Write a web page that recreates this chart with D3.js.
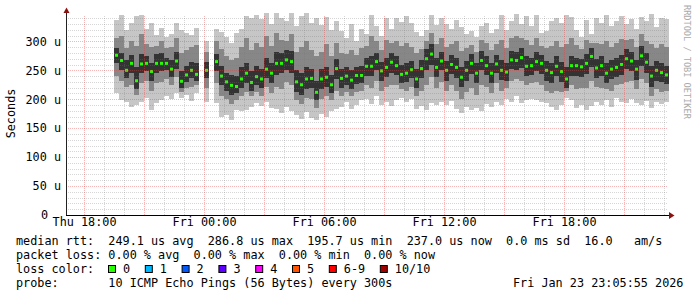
<!DOCTYPE html>
<html>
<head>
<meta charset="utf-8">
<script src="https://cdn.jsdelivr.net/npm/d3@7"></script>
<style>
  body { margin: 0; background: #fff; }
  svg text { font-family: "DejaVu Sans Mono", monospace; font-size: 11.8px; fill: #000; white-space: pre; }
</style>
</head>
<body>
<div id="graph"></div>
<script>
// graph window and sample grid (one sample per 15 min, first one Thu 19:30)
var graphStart = new Date(2026, 0, 22, 17, 5, 55);
var graphEnd = new Date(2026, 0, 23, 23, 5, 55);
var firstSample = new Date(2026, 0, 22, 19, 30, 0);
var stepMinutes = 15;

// values in microseconds, null = no data
var median = [
  276,267,250,262,232,261,262,248,262,262,
  262,252,266,231,242,250,243,null,250,null,
  265,240,230,224,222,235,245,229,239,235,
  252,245,262,262,268,265,230,225,235,236,
  212,235,238,225,253,236,240,233,241,241,
  257,257,265,249,255,264,258,243,245,251,
  235,253,270,278,255,266,250,260,255,238,
  250,262,245,267,258,245,261,250,247,268,
  267,272,257,258,265,262,250,246,257,248,
  235,258,258,256,262,274,254,258,245,252,
  255,260,270,266,252,275,264,240,250,246,242
];
var pingMax = [
  337,346,320,332,344,346,322,331,311,323,
  308,312,331,320,314,311,323,null,300,null,
  322,316,308,297,314,322,344,340,345,338,
  349,330,349,341,335,349,326,344,349,332,
  340,328,342,320,335,318,305,330,300,322,
  312,346,326,310,340,322,340,333,344,331,
  316,309,320,346,328,340,330,322,337,325,
  312,318,308,326,331,314,322,345,320,336,
  348,330,344,326,345,314,318,335,340,331,
  346,342,320,308,337,312,340,331,346,326,
  335,343,330,338,322,342,336,347,325,340,338
];
var pingHi = [
  305,310,288,300,292,312,295,290,292,300,
  288,290,305,280,285,290,294,null,282,null,
  300,286,275,268,272,290,305,285,298,290,
  310,292,315,302,300,312,282,290,300,285,
  275,282,295,275,298,280,278,285,276,288,
  292,310,300,285,302,298,300,292,298,290,
  280,286,300,315,295,305,290,296,300,284,
  288,294,282,302,298,285,295,302,288,306,
  310,305,302,294,305,292,288,292,300,290,
  295,305,294,286,302,298,298,296,300,290,
  298,304,302,304,290,312,300,296,288,295,290
];
var coreHi = [
  288,280,268,276,255,278,275,262,278,280,
  272,268,282,248,258,265,262,null,265,null,
  278,258,246,242,240,255,262,248,258,252,
  272,262,282,280,285,284,250,245,255,252,
  232,252,256,242,270,252,256,250,256,258,
  272,275,280,265,272,280,274,260,262,266,
  252,268,286,295,272,282,266,276,272,255,
  266,278,262,284,275,262,276,268,262,284,
  282,288,274,272,282,276,266,262,274,264,
  255,275,272,270,278,288,270,274,262,268,
  272,276,286,282,268,292,280,258,266,262,258
];
var coreLo = [
  262,250,236,245,218,245,248,232,246,248,
  250,238,252,220,230,236,232,null,236,null,
  248,225,215,208,210,220,228,215,224,220,
  236,228,242,245,250,246,212,208,218,220,
  198,218,222,210,235,220,225,218,226,228,
  240,240,250,232,238,246,242,228,230,236,
  220,236,250,260,238,250,232,244,236,222,
  232,244,228,250,242,228,246,234,232,252,
  250,254,240,242,248,244,232,228,240,230,
  220,240,240,238,244,256,236,240,228,235,
  238,242,252,248,234,258,246,222,232,230,226
];
var pingLo = [
  240,232,222,225,208,228,232,215,228,230,
  235,225,238,212,220,222,225,null,220,null,
  228,205,200,192,198,205,212,205,212,205,
  222,210,222,218,230,225,198,192,202,200,
  185,200,205,198,215,205,212,205,212,215,
  225,220,232,215,222,225,225,218,215,222,
  205,215,225,238,220,230,215,225,215,200,
  212,220,208,225,222,210,228,215,220,232,
  235,232,225,228,230,225,215,210,215,212,
  215,225,218,220,220,232,222,220,218,215,
  225,226,230,232,218,235,228,205,218,212,215
];
var pingMin = [
  210,199,196,187,190,196,202,182,193,199,
  205,200,210,203,207,197,211,null,195,null,
  193,170,173,164,182,179,182,187,193,188,
  196,185,184,176,187,180,172,165,178,168,
  164,175,170,180,184,186,195,184,190,199,
  200,192,205,190,196,188,198,202,195,200,
  184,188,181,194,190,196,190,197,183,176,
  186,182,185,180,192,187,196,190,200,195,
  205,193,198,201,199,196,193,187,182,190,
  202,198,185,190,182,188,196,190,199,187,
  202,196,193,200,194,190,197,185,196,192,195
];

var yTicks = [0, 50, 100, 150, 200, 250, 300];
var lossLabels = ["0", "1", "2", "3", "4", "5", "6-9", "10/10"];
var lossColors = ["#26ff00", "#00b8ff", "#0059ff", "#5e00ff", "#ff00ff", "#ff5500", "#ff0000", "#a10000"];
var statLines = [
  "median rtt:  249.1 us avg  286.8 us max  195.7 us min  237.0 us now  0.0 ms sd  16.0   am/s",
  "packet loss: 0.00 % avg  0.00 % max  0.00 % min  0.00 % now",
  "loss color:",
  "probe:       10 ICMP Echo Pings (56 Bytes) every 300s"
];
var stamp = "Fri Jan 23 23:05:55 2026";

var width = 697, height = 297;
var plotLeft = 66, plotRight = 666, plotBottom = 215, plotTop = 13;

var svg = d3.select("#graph").append("svg")
  .attr("width", width)
  .attr("height", height);

var x = d3.scaleTime().domain([graphStart, graphEnd]).range([plotLeft, plotRight]);
var y = d3.scaleLinear().domain([0, 349]).range([plotBottom, plotTop]);

var times = median.map(function(d, i) { return d3.timeMinute.offset(firstSample, i * stepMinutes); });
var idx = d3.range(median.length).filter(function(i) { return median[i] != null; });

function band(lo, hi, color) {
  svg.append("g")
    .attr("shape-rendering", "crispEdges")
    .selectAll("rect")
    .data(idx)
    .enter().append("rect")
    .attr("x", function(i) { return x(times[i]); })
    .attr("width", function(i) { return x(d3.timeMinute.offset(times[i], stepMinutes)) - x(times[i]); })
    .attr("y", function(i) { return y(hi[i]); })
    .attr("height", function(i) { return y(lo[i]) - y(hi[i]); })
    .attr("fill", color);
}

// the smoke, lightest outside
band(pingMin, pingMax, "#c6c6c6");
band(pingLo, pingHi, "#878787");
band(coreLo, coreHi, "#333333");

// medians
svg.append("g")
  .selectAll("rect")
  .data(idx)
  .enter().append("rect")
  .attr("x", function(i) { return x(times[i]) + 1; })
  .attr("y", function(i) { return y(median[i]) - 1.5; })
  .attr("width", 3)
  .attr("height", 3)
  .attr("fill", lossColors[0]);

// grid, drawn faint on top of the data
var grid = svg.append("g").attr("shape-rendering", "crispEdges");
var majorColor = "rgba(235,60,60,0.38)", minorColor = "rgba(120,120,120,0.3)";
d3.range(10, 341, 10).forEach(function(v) {
  grid.append("line")
    .attr("x1", plotLeft).attr("x2", plotRight + 2)
    .attr("y1", Math.round(y(v)) + 0.5).attr("y2", Math.round(y(v)) + 0.5)
    .attr("stroke", v % 50 == 0 ? majorColor : minorColor)
    .attr("stroke-dasharray", "1,1");
});
d3.timeHour.range(graphStart, graphEnd).forEach(function(t) {
  var px = Math.round(x(t)) + 0.5;
  grid.append("line")
    .attr("x1", px).attr("x2", px)
    .attr("y1", plotBottom).attr("y2", plotTop + 3)
    .attr("stroke", t.getHours() % 3 == 0 ? majorColor : minorColor)
    .attr("stroke-dasharray", "1,1");
});

// axes
svg.append("line").attr("x1", plotLeft + 0.5).attr("x2", plotLeft + 0.5).attr("y1", plotBottom).attr("y2", 10)
  .attr("stroke", "#222");
svg.append("line").attr("x1", plotLeft).attr("x2", 671).attr("y1", plotBottom + 0.5).attr("y2", plotBottom + 0.5)
  .attr("stroke", "#000");
svg.append("path").attr("d", "M63.5,13L69.5,13L66.5,7.5Z").attr("fill", "#8b1010");
svg.append("path").attr("d", "M669,212L669,219L674.5,215.5Z").attr("fill", "#8b1010");

var yAxis = svg.append("g")
  .attr("transform", "translate(" + plotLeft + ",0)")
  .call(d3.axisLeft(y).tickValues(yTicks).tickSize(0).tickPadding(5)
    .tickFormat(function(d) { return d == 0 ? "0" : d + " u"; }));
yAxis.select(".domain").remove();
yAxis.selectAll("text").attr("font-family", null).attr("font-size", null)
  .attr("dx", function(d) { return d == 0 ? -13 : 0; });

var xAxis = svg.append("g")
  .attr("transform", "translate(0," + plotBottom + ")")
  .call(d3.axisBottom(x).ticks(d3.timeHour.every(6)).tickSize(0).tickPadding(3)
    .tickFormat(d3.timeFormat("%a %H:%M")));
xAxis.select(".domain").remove();
xAxis.selectAll("text").attr("font-family", null).attr("font-size", null);

svg.append("text")
  .attr("transform", "translate(15,113.5) rotate(-90)")
  .attr("text-anchor", "middle")
  .text("Seconds");

svg.append("text")
  .attr("transform", "translate(684,5) rotate(90)")
  .style("font-size", "8.6px")
  .style("fill", "#aaaaaa")
  .text("RRDTOOL / TOBI OETIKER");

// legend
svg.selectAll(".stat")
  .data(statLines)
  .enter().append("text")
  .attr("class", "stat")
  .attr("x", 16)
  .attr("y", function(d, i) { return 245 + i * 14; })
  .text(function(d) { return d; });

var boxX = 108;
lossLabels.forEach(function(lab, i) {
  svg.append("rect")
    .attr("x", boxX + 0.5).attr("y", 265.5)
    .attr("width", 7).attr("height", 7)
    .attr("fill", lossColors[i])
    .attr("stroke", "#000");
  svg.append("text").attr("x", boxX + 15).attr("y", 273).text(lab);
  boxX += 29.7 + 7.1 * lab.length;
});

svg.append("text").attr("x", 513).attr("y", 287).text(stamp);
</script>
</body>
</html>
